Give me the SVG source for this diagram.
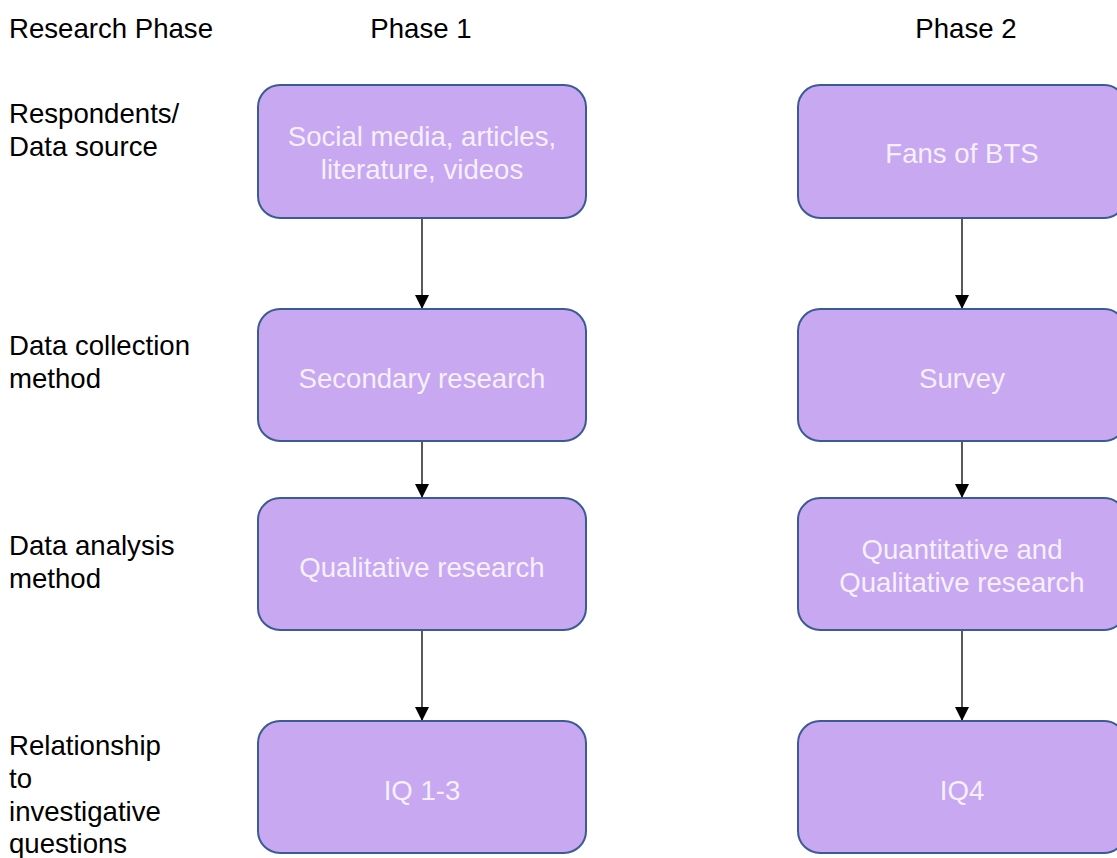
<svg xmlns="http://www.w3.org/2000/svg" width="1117" height="858" viewBox="0 0 1117 858">
<defs>
<style>
.lbl{font-family:"Liberation Sans",Arial,sans-serif;font-size:27.6px;fill:#000}
.box{fill:#c7a8f1;stroke:#3b5b94;stroke-width:2}
.bt{font-family:"Liberation Sans",Arial,sans-serif;font-size:27.6px;fill:#f6f0fd;text-anchor:middle}
.con{stroke:#000;stroke-width:1.3;fill:none;marker-end:url(#ah)}
</style>
<marker id="ah" viewBox="0 0 14 14" refX="14" refY="7" markerWidth="14" markerHeight="14" markerUnits="userSpaceOnUse" orient="auto">
<path d="M0,0 L14,7 L0,14 Z" fill="#000"/>
</marker>
</defs>
<rect width="1117" height="858" fill="#fff"/>
<g id="labels">
<text class="lbl" x="9" y="38">Research Phase</text>
<text class="lbl" x="421" y="38" text-anchor="middle">Phase 1</text>
<text class="lbl" x="966" y="38" text-anchor="middle">Phase 2</text>
<text class="lbl" x="9" y="123">Respondents/</text>
<text class="lbl" x="9" y="156">Data source</text>
<text class="lbl" x="9" y="355">Data collection</text>
<text class="lbl" x="9" y="388">method</text>
<text class="lbl" x="9" y="555">Data analysis</text>
<text class="lbl" x="9" y="588">method</text>
<text class="lbl" x="9" y="755">Relationship</text>
<text class="lbl" x="9" y="788">to</text>
<text class="lbl" x="9" y="821">investigative</text>
<text class="lbl" x="9" y="853">questions</text>
</g>
<g id="connectors">
<line class="con" x1="422" y1="218" x2="422" y2="309"/>
<line class="con" x1="422" y1="441" x2="422" y2="498"/>
<line class="con" x1="422" y1="630" x2="422" y2="721"/>
<line class="con" x1="962" y1="218" x2="962" y2="309"/>
<line class="con" x1="962" y1="441" x2="962" y2="498"/>
<line class="con" x1="962" y1="630" x2="962" y2="721"/>
</g>
<g id="n1"><rect class="box" x="258" y="85" width="328" height="133" rx="22"/>
<text class="bt" x="422" y="146">Social media, articles,</text><text class="bt" x="422" y="179">literature, videos</text></g>
<g id="n2"><rect class="box" x="258" y="309" width="328" height="132" rx="22"/>
<text class="bt" x="422" y="388">Secondary research</text></g>
<g id="n3"><rect class="box" x="258" y="498" width="328" height="132" rx="22"/>
<text class="bt" x="422" y="577">Qualitative research</text></g>
<g id="n4"><rect class="box" x="258" y="721" width="328" height="132" rx="22"/>
<text class="bt" x="422" y="800">IQ 1-3</text></g>
<g id="n5"><rect class="box" x="798" y="85" width="328" height="133" rx="22"/>
<text class="bt" x="962" y="163">Fans of BTS</text></g>
<g id="n6"><rect class="box" x="798" y="309" width="328" height="132" rx="22"/>
<text class="bt" x="962" y="388">Survey</text></g>
<g id="n7"><rect class="box" x="798" y="498" width="328" height="132" rx="22"/>
<text class="bt" x="962" y="559">Quantitative and</text><text class="bt" x="962" y="592">Qualitative research</text></g>
<g id="n8"><rect class="box" x="798" y="721" width="328" height="132" rx="22"/>
<text class="bt" x="962" y="800">IQ4</text></g>
</svg>
